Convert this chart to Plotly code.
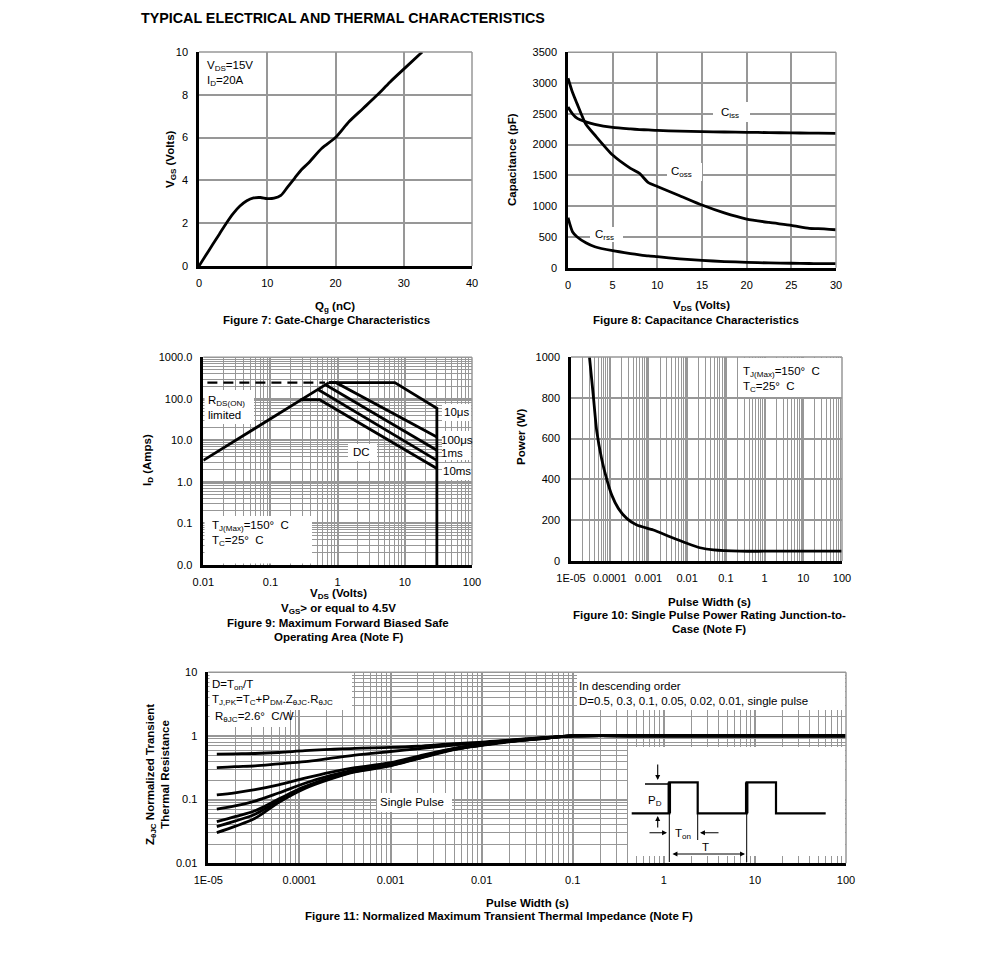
import plotly.graph_objects as go

# page body has an 8px margin, so the figure is sized to fit inside it
OFF = 8
W, H = 975, 960
FONT = "Liberation Sans, Arial, sans-serif"
GRID = "#979797"
TS = 11.5

# ---------------- DATA ----------------
# Figure 7: gate charge
qg_nc = [0, 1, 2, 3, 4, 5, 6, 7, 8, 9, 10, 11, 12, 13, 14, 15, 16, 18, 20, 22, 24, 26, 28, 30, 32.7]
vgs_v = [0, 0.5, 1.0, 1.5, 2.0, 2.45, 2.8, 3.05, 3.18, 3.2, 3.15, 3.17, 3.3, 3.7, 4.1, 4.5, 4.8, 5.5, 6.0, 6.75, 7.35, 7.95, 8.6, 9.2, 10.0]

# Figure 8: capacitance
cap_vds = [0, 0.5, 1, 2, 3, 5, 7, 8, 9, 10, 12.5, 15, 17.5, 20, 22.5, 25, 27, 28, 30]
ciss_pf = [2610, 2500, 2430, 2370, 2330, 2280, 2255, 2245, 2238, 2230, 2220, 2210, 2205, 2200, 2195, 2190, 2188, 2186, 2183]
coss_pf = [3080, 2850, 2670, 2330, 2156, 1830, 1614, 1533, 1381, 1320, 1170, 1018, 890, 791, 735, 688, 640, 635, 617]
crss_pf = [812, 585, 504, 406, 341, 276, 230, 210, 192, 179, 145, 119, 100, 87, 78, 72, 68, 66, 65]

# Figure 9: safe operating area
soa_rds_v = [0.01, 0.74]
soa_rds_i = [3.3, 245]
soa_dash_v = [0.0115, 0.65]
soa_dash_i = [245, 245]
soa_10us_v = [0.74, 7.1, 30, 30]
soa_10us_i = [245, 245, 59, 0.01]
soa_100us_v = [0.74, 0.95, 30]
soa_100us_i = [245, 245, 12]
soa_1ms_v = [0.66, 30]
soa_1ms_i = [218, 5.8]
soa_10ms_v = [0.51, 30]
soa_10ms_i = [168, 3.3]
soa_dc_v = [0.28, 0.54, 30]
soa_dc_i = [95, 95, 2.1]

# Figure 10: single pulse power
pw_s = [3.0e-5, 3.77e-5, 4.6e-5, 6.2e-5, 8.4e-5, 1.13e-4, 1.67e-4, 2.75e-4, 5e-4, 1.34e-3, 3.6e-3, 9.8e-3, 2.15e-2, 4.8e-2, 0.23, 1, 10, 100]
pw_w = [1000, 810, 640, 500, 400, 323, 258, 209, 176, 152, 119, 87, 65, 54, 48, 48, 48, 48]

# Figure 11: normalized transient thermal impedance
zth_t = [1.24e-5, 1.96e-5, 3.26e-5, 5.9e-5, 1.15e-4, 2.17e-4, 4.07e-4, 1e-3, 2e-3, 5e-3, 1e-2, 2e-2, 5e-2, 0.1, 1, 10, 100]
zth_d05 = [0.52, 0.525, 0.53, 0.55, 0.587, 0.615, 0.64, 0.66, 0.69, 0.76, 0.8, 0.86, 0.95, 1.0, 1.0, 1.0, 1.0]
zth_d03 = [0.318, 0.33, 0.34, 0.365, 0.395, 0.445, 0.5, 0.57, 0.63, 0.72, 0.78, 0.85, 0.94, 1.0, 1.0, 1.0, 1.0]
zth_d01 = [0.119, 0.128, 0.143, 0.17, 0.217, 0.268, 0.318, 0.38, 0.48, 0.64, 0.74, 0.83, 0.93, 1.0, 1.0, 1.0, 1.0]
zth_d005 = [0.071, 0.08, 0.095, 0.127, 0.181, 0.238, 0.293, 0.36, 0.46, 0.63, 0.73, 0.82, 0.93, 1.0, 1.0, 1.0, 1.0]
zth_d002 = [0.045, 0.054, 0.067, 0.102, 0.16, 0.22, 0.281, 0.35, 0.45, 0.62, 0.72, 0.82, 0.92, 1.0, 1.0, 1.0, 1.0]
zth_d001 = [0.0377, 0.046, 0.059, 0.095, 0.155, 0.215, 0.277, 0.345, 0.445, 0.62, 0.72, 0.82, 0.92, 1.0, 1.0, 1.0, 1.0]
zth_single = [0.0303, 0.038, 0.051, 0.09, 0.15, 0.21, 0.272, 0.34, 0.44, 0.61, 0.71, 0.81, 0.92, 1.0, 1.0, 1.0, 1.0]

# tick labels
f7_xticks = [0, 10, 20, 30, 40]
f7_yticks = [0, 2, 4, 6, 8, 10]
f8_xticks = [0, 5, 10, 15, 20, 25, 30]
f8_yticks = [0, 500, 1000, 1500, 2000, 2500, 3000, 3500]
f9_x_decades = [0.01, 0.1, 1, 10, 100]
f9_x_labels = ["0.01", "0.1", "1", "10", "100"]
f9_y_decades = [0.01, 0.1, 1, 10, 100, 1000]
f9_y_labels = ["0.0", "0.1", "1.0", "10.0", "100.0", "1000.0"]
pw_decades = [1e-5, 1e-4, 1e-3, 1e-2, 1e-1, 1, 10, 100]
pw_labels = ["1E-05", "0.0001", "0.001", "0.01", "0.1", "1", "10", "100"]
f10_yticks = [0, 200, 400, 600, 800, 1000]
f11_y_decades = [0.01, 0.1, 1, 10]
f11_y_labels = ["0.01", "0.1", "1", "10"]

# ---------------- LAYOUT HELPERS ----------------
def X(px):
    return (px - OFF) / W

def Y(py):
    return 1 - (py - OFF) / H

# pixel boxes of the five plot areas: (left, right, top, bottom)
BOX = {1: (199, 472, 52, 266), 2: (568, 836, 52.3, 267.7), 3: (203.3, 472, 357.3, 565),
       4: (571, 842, 357, 561), 5: (208.3, 846, 672.3, 863.3)}


def minors(decades):
    return [d * m for d in decades[:-1] for m in range(2, 10)]


def axis(k, letter, **kw):
    l, r, t, b = BOX[k]
    dom = [X(l), X(r)] if letter == "x" else [Y(b), Y(t)]
    d = dict(domain=dom, showline=True, linecolor="black", linewidth=2.5, showgrid=True,
             gridcolor=GRID, gridwidth=1.5, ticks="", zeroline=False, fixedrange=True,
             automargin=False,
             tickfont=dict(family=FONT, size=11, color="black"), tickangle=0,
             anchor=("y" if letter == "x" else "x") + ("" if k == 1 else str(k)),
             ticklabelstandoff=5 if letter == "x" else 6)
    d.update(kw)
    return d


def log_axis(k, letter, decades, labels, rng):
    return axis(k, letter, type="log", range=rng, tickmode="array", tickvals=decades, ticktext=labels,
                minor=dict(tickmode="array", tickvals=minors(decades), showgrid=True,
                           gridcolor=GRID, gridwidth=1.3, ticks=""))


fig = go.Figure()
LW = 2.8


def add(x, y, k, width=LW, dash=None, smooth=0.0):
    line = dict(color="black", width=width, dash=dash)
    if smooth:
        line.update(shape="spline", smoothing=smooth)
    fig.add_trace(go.Scatter(x=x, y=y, mode="lines", line=line,
                             xaxis="x" if k == 1 else f"x{k}", yaxis="y" if k == 1 else f"y{k}",
                             showlegend=False, hoverinfo="skip"))


add(qg_nc, vgs_v, 1, smooth=0.8)
add(cap_vds, ciss_pf, 2, smooth=0.6)
add(cap_vds, coss_pf, 2, smooth=0.6)
add(cap_vds, crss_pf, 2, smooth=0.6)
add(soa_dash_v, soa_dash_i, 3, width=2.2, dash="10px,6px")
add(soa_rds_v, soa_rds_i, 3)
add(soa_10us_v, soa_10us_i, 3)
add(soa_100us_v, soa_100us_i, 3)
add(soa_1ms_v, soa_1ms_i, 3)
add(soa_10ms_v, soa_10ms_i, 3)
add(soa_dc_v, soa_dc_i, 3)
add(pw_s, pw_w, 4, smooth=0.6)
for z in [zth_d05, zth_d03, zth_d01, zth_d005, zth_d002, zth_d001, zth_single]:
    add(zth_t, z, 5, smooth=1.0)

layout = dict(
    width=W, height=H, autosize=False, margin=dict(l=0, r=0, t=0, b=0, pad=0),
    paper_bgcolor="white", plot_bgcolor="white", showlegend=False,
    font=dict(family=FONT, size=11, color="black"),
    xaxis=axis(1, "x", range=[0, 40], tickvals=f7_xticks),
    yaxis=axis(1, "y", range=[0, 10], tickvals=f7_yticks),
    xaxis2=axis(2, "x", range=[0, 30], tickvals=f8_xticks),
    yaxis2=axis(2, "y", range=[0, 3500], tickvals=f8_yticks),
    xaxis3=log_axis(3, "x", f9_x_decades, f9_x_labels, [-2, 2]),
    yaxis3=log_axis(3, "y", f9_y_decades, f9_y_labels, [-2, 3]),
    xaxis4=log_axis(4, "x", pw_decades, pw_labels, [-5, 2]),
    yaxis4=axis(4, "y", range=[0, 1000], tickvals=f10_yticks),
    xaxis5=log_axis(5, "x", pw_decades, pw_labels, [-5, 2]),
    yaxis5=log_axis(5, "y", f11_y_decades, f11_y_labels, [-2, 1]),
)
fig.update_layout(**layout)

shapes = []
annotations = []


def wrect(x0, y0, x1, y1):
    shapes.append(dict(type="rect", xref="paper", yref="paper", x0=X(x0), x1=X(x1),
                       y0=Y(y1), y1=Y(y0), fillcolor="white", line=dict(width=0), layer="above"))


def pline(x0, y0, x1, y1, width=1.2, color="black"):
    shapes.append(dict(type="line", xref="paper", yref="paper", x0=X(x0), y0=Y(y0), x1=X(x1), y1=Y(y1),
                       line=dict(color=color, width=width), layer="above"))


def text(px, py, s, size=TS, bold=False, xanchor="center", yanchor="middle", angle=0, align="left"):
    if bold:
        s = "<b>" + s + "</b>"
    annotations.append(dict(x=X(px), y=Y(py), xref="paper", yref="paper", text=s, showarrow=False,
                            xanchor=xanchor, yanchor=yanchor, textangle=angle, align=align,
                            font=dict(family=FONT, size=size, color="black")))


def arrow(hx, hy, tx, ty, both=False):
    annotations.append(dict(x=X(hx), y=Y(hy), xref="paper", yref="paper", ax=tx - hx, ay=ty - hy,
                            axref="pixel", ayref="pixel", text="", showarrow=True, arrowhead=2,
                            arrowsize=0.9, arrowwidth=1.1, arrowcolor="black", standoff=0,
                            startstandoff=0, arrowside="end+start" if both else "end",
                            startarrowhead=2, startarrowsize=0.9))


# gray top/right frame of each plot area
for k, (l, r, t, b) in BOX.items():
    pline(l, t, r, t, width=1.5, color=GRID)
    pline(r, t, r, b, width=1.5, color=GRID)

# title
text(139, 18, "TYPICAL ELECTRICAL AND THERMAL CHARACTERISTICS", size=14.3, bold=True, xanchor="left")

# ---- Figure 7 ----
text(205, 57, "V<sub>DS</sub>=15V<br>I<sub>D</sub>=20A", xanchor="left", yanchor="top")
text(171, 159, "V<sub>GS</sub> (Volts)", bold=True, angle=-90)
text(335, 307, "Q<sub>g</sub> (nC)", bold=True)
text(326, 320, "Figure 7: Gate-Charge Characteristics", bold=True)

# ---- Figure 8 ----
wrect(713, 102, 750, 122)
wrect(667, 163, 702, 181)
wrect(590, 227, 623, 242)
text(730, 113, "C<sub>iss</sub>")
text(681, 172, "C<sub>oss</sub>")
text(604, 235, "C<sub>rss</sub>")
text(512, 160, "Capacitance (pF)", bold=True, angle=-90)
text(701, 306, "V<sub>DS</sub> (Volts)", bold=True)
text(696, 320, "Figure 8: Capacitance Characteristics", bold=True)

# ---- Figure 9 ----
wrect(204.5, 390, 254, 424)
wrect(442, 404, 471, 421)
wrect(442, 431, 471, 460)
wrect(442, 463, 471, 480)
wrect(348, 444, 377, 461)
wrect(204.5, 516, 312, 563.5)
text(206, 407, "R<sub>DS(ON)</sub><br>limited", xanchor="left")
text(456, 412, "10μs")
text(457, 440, "100μs")
text(452, 453, "1ms")
text(457, 471, "10ms")
text(361, 452, "DC")
text(210, 533, "T<sub>J(Max)</sub>=150°\u00a0 C<br>T<sub>C</sub>=25°\u00a0 C", xanchor="left")
text(148, 460, "I<sub>D</sub> (Amps)", bold=True, angle=-90)
text(338, 594, "V<sub>DS</sub> (Volts)", bold=True)
text(338, 609, "V<sub>GS</sub>> or equal to 4.5V", bold=True)
text(338, 623, "Figure 9: Maximum Forward Biased Safe", bold=True)
text(338, 637, "Operating Area (Note F)", bold=True)

# ---- Figure 10 ----
wrect(740, 358, 841, 397)
text(741, 380, "T<sub>J(Max)</sub>=150°\u00a0 C<br>T<sub>C</sub>=25°\u00a0 C", xanchor="left")
text(521, 437, "Power (W)", bold=True, angle=-90)
text(709, 602, "Pulse Width (s)", bold=True)
text(709, 615, "Figure 10: Single Pulse Power Rating Junction-to-", bold=True)
text(709, 629, "Case (Note F)", bold=True)

# ---- Figure 11 ----
wrect(209.5, 673, 352, 710)
wrect(209.5, 710, 290, 727)
wrect(577, 673, 845, 710)
wrect(377, 793, 452, 812)
wrect(628, 747, 845, 856)
text(210, 692, "D=T<sub>on</sub>/T<br>T<sub>J,PK</sub>=T<sub>C</sub>+P<sub>DM</sub>.Z<sub>θJC</sub>.R<sub>θJC</sub>",
     xanchor="left")
text(213, 717, "R<sub>θJC</sub>=2.6°\u00a0 C/W", xanchor="left")
text(577, 693, "In descending order<br>D=0.5, 0.3, 0.1, 0.05, 0.02, 0.01, single pulse", xanchor="left")
text(412, 802, "Single Pulse")
text(157, 775, "Z<sub>θJC</sub> Normalized Transient<br>Thermal Resistance", bold=True, angle=-90,
     align="center")
text(527, 903, "Pulse Width (s)", bold=True)
text(499, 916, "Figure 11: Normalized Maximum Transient Thermal Impedance (Note F)", bold=True)

# inset pulse schematic (Figure 11)
shapes.append(dict(type="path", xref="paper", yref="paper", layer="above",
                   path="M {},{} H {} V {} H {} V {} H {} V {} H {} V {} H {}".format(
                       X(631.7), Y(813.3), X(669.3), Y(782.3), X(697.7), Y(813.3), X(746.7),
                       Y(782.3), X(776), Y(813.3), X(825.7)),
                   line=dict(color="black", width=2.2)))
pline(669.3, 813.3, 669.3, 782.3, width=3.5)
pline(746.7, 813.3, 746.7, 782.3, width=3.5)
pline(645, 784, 669.3, 784, width=1.5)
pline(669.3, 813.3, 669.3, 862, width=1)
pline(697.7, 813.3, 697.7, 840, width=1)
pline(746.7, 813.3, 746.7, 862, width=1)
arrow(657.7, 780, 657.7, 763)
arrow(657.7, 816, 657.7, 829)
arrow(667, 832.7, 648, 832.7)
arrow(700, 832.7, 720, 832.7)
arrow(745, 854, 671, 854, both=True)
text(655, 801, "P<sub>D</sub>")
text(683, 834, "T<sub>on</sub>")
text(705, 847, "T")

fig.update_layout(shapes=shapes, annotations=annotations)
fig.write_html("out.html")
